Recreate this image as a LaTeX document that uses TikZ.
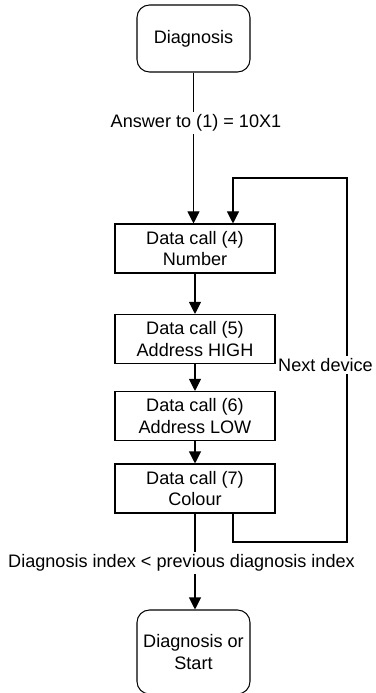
\documentclass[tikz,border=0pt]{standalone}
\usepackage{fontspec}
\setmainfont{Liberation Sans}
\usepackage{tikz}
\usetikzlibrary{calc,positioning,arrows.meta}

\begin{document}
\begin{tikzpicture}[
  x=1cm,
  y=1cm,
  line width=0.6pt,
  every node/.style={align=center, font=\fontsize{10.3}{12.3}\selectfont},
  terminal/.style={draw, rounded corners=0.25cm, minimum width=2.26cm, inner sep=1pt},
  callbox/.style={draw, minimum width=3.2cm, minimum height=0.98cm, inner sep=1pt},
  lbl/.style={fill=white, inner sep=1.5pt},
  arr/.style={-{Triangle[length=0.24cm,width=0.24cm]}}
]
\useasboundingbox (0,0) rectangle (7.5,-13.86);

\node[terminal, minimum height=1.34cm] (diag) at (3.87,-0.77) {Diagnosis};
\node[callbox] (d4) at (3.9,-4.97) {Data call (4)\\Number};
\node[callbox] (d5) at (3.9,-6.78) {Data call (5)\\Address HIGH};
\node[callbox] (d6) at (3.9,-8.32) {Data call (6)\\Address LOW};
\node[callbox] (d7) at (3.9,-9.77) {Data call (7)\\Colour};
\node[terminal, minimum height=1.68cm] (next) at (3.87,-13.04) {Diagnosis or\\Start};

\coordinate (loopB) at (6.94,-10.84);
\coordinate (loopT) at (6.94,-3.56);

\draw[arr] (diag.south) -- node[lbl, pos=0.336, xshift=0.05cm] {Answer to (1) = 10X1} (d4.north -| diag.south);
\draw[arr] (d4) -- (d5);
\draw[arr] (d5) -- (d6);
\draw[arr] (d6) -- (d7);
\draw[arr] (d7.south) -- node[lbl, pos=0.515, xshift=-0.27cm] {Diagnosis index < previous diagnosis index} (next.north -| d7.south);
\draw[arr] ([xshift=0.76cm]d7.south) |- (loopB) -- node[lbl, pos=0.486, xshift=-0.43cm] {Next device} (loopT) -| ([xshift=0.76cm]d4.north);
\end{tikzpicture}
\end{document}
